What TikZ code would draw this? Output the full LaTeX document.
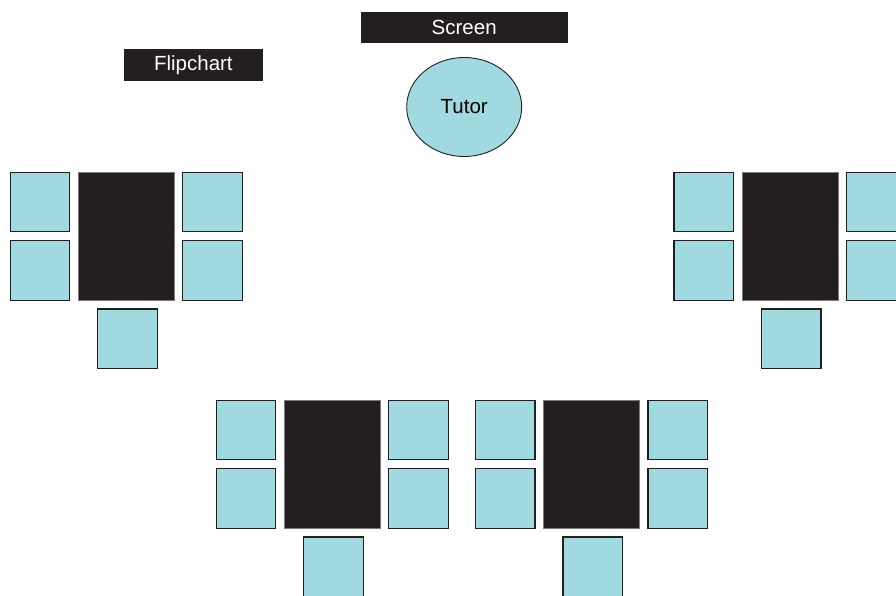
\documentclass[tikz,border=0pt]{standalone}
\usepackage{fontspec}
\setmainfont{Liberation Sans}
\usetikzlibrary{shapes.geometric}
\definecolor{seat}{HTML}{A0D9E0}
\definecolor{ink}{HTML}{231F20}
\tikzset{
  chair/.style={rectangle, draw=ink, line width=1.4pt, fill=seat, minimum width=59.5pt, minimum height=59.5pt, inner sep=0pt},
  desk/.style={rectangle, fill=ink, draw=ink!60, line width=0.4pt, minimum width=96pt, minimum height=128pt, inner sep=0pt},
  board/.style={rectangle, fill=ink, minimum height=31.5pt, inner sep=0pt, text=white, font=\fontsize{20.5}{24}\selectfont},
  tutorstyle/.style={ellipse, draw=ink, line width=0.9pt, fill=seat, minimum width=115pt, minimum height=99pt, inner sep=0pt, font=\fontsize{20.5}{24}\selectfont}
}
\begin{document}
\begin{tikzpicture}[x=1pt,y=-1pt]
\useasboundingbox (0,0) rectangle (896,596);
\clip (0,0) rectangle (896,596);
\node[board, minimum width=207pt] (screen) at (464.2,27.5) {Screen};
\node[board, minimum width=138.7pt] (flip) at (193.4,65.2) {Flipchart};
\node[tutorstyle] (tutor) at (464.2,107) {Tutor};
\foreach \n/\tx/\ty in {1/78/172, 2/741.7/172, 3/284/400, 4/543.3/400}{
  \node[desk] (g\n-t) at (\tx+48,\ty+64) {};
  \node[chair] (g\n-a) at (\tx-38,\ty+30) {};
  \node[chair] (g\n-b) at (\tx-38,\ty+98.5) {};
  \node[chair] (g\n-c) at (\tx+134.5,\ty+30) {};
  \node[chair] (g\n-d) at (\tx+134.5,\ty+98.5) {};
  \node[chair] (g\n-e) at (\tx+49.5,\ty+166.7) {};
}
\end{tikzpicture}
\end{document}
